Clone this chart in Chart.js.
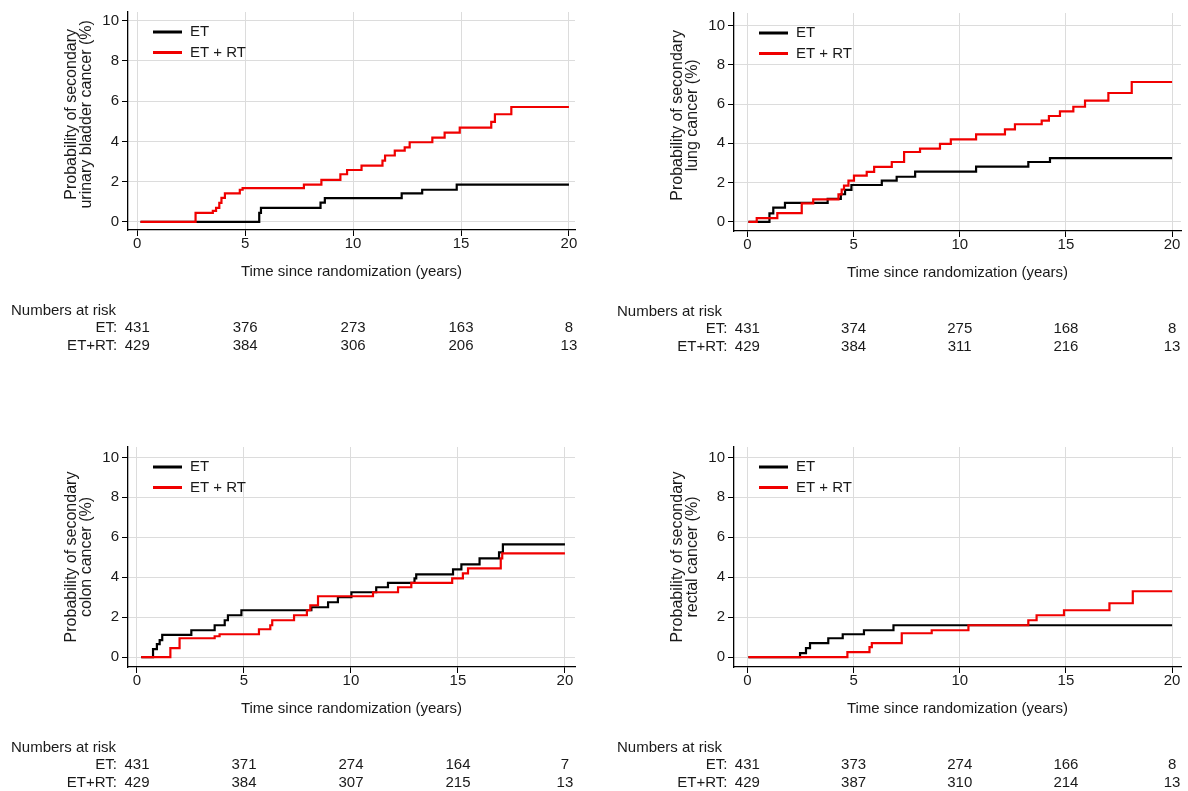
<!DOCTYPE html>
<html lang="en">
<head>
<meta charset="UTF-8">
<title>Probability of secondary cancer</title>
<script src="https://cdn.jsdelivr.net/npm/chart.js"></script>
<style>
  body { margin: 0; background: #fff; width: 1188px; height: 791px; position: relative; overflow: hidden; }
  canvas { position: absolute; }
</style>
</head>
<body>
<canvas id="bladder" width="590" height="380" style="left:0px;top:0px"></canvas>
<canvas id="lung" width="588" height="380" style="left:600px;top:0px"></canvas>
<canvas id="colon" width="590" height="356" style="left:0px;top:435px"></canvas>
<canvas id="rectal" width="588" height="356" style="left:600px;top:435px"></canvas>
<script>
// dados (anos, probabilidade %)
const seriesLabels = ['ET', 'ET + RT'];
const xTicks = [0, 5, 10, 15, 20];
const yTicks = [0, 2, 4, 6, 8, 10];
const riskTimes = [0, 5, 10, 15, 20];

const bladderEtTime = [0.15, 5.65, 5.73, 8.49, 8.69, 12.25, 13.2, 14.8, 20];
const bladderEtProb = [0, 0.45, 0.7, 0.96, 1.18, 1.42, 1.6, 1.85, 1.85];
const bladderRtTime = [0.15, 2.7, 3.5, 3.65, 3.8, 3.9, 4.06, 4.75, 4.88, 7.72, 8.53, 9.41, 9.72, 10.39, 11.36, 11.48, 11.93, 12.39, 12.62, 13.67, 14.24, 14.94, 16.4, 16.57, 17.33, 20];
const bladderRtProb = [0, 0.45, 0.55, 0.7, 0.95, 1.2, 1.42, 1.6, 1.68, 1.85, 2.09, 2.37, 2.58, 2.8, 3.05, 3.3, 3.54, 3.7, 3.96, 4.19, 4.44, 4.69, 4.97, 5.35, 5.71, 5.71];
const bladderRiskEt = [431, 376, 273, 163, 8];
const bladderRiskRt = [429, 384, 306, 206, 13];

const lungEtTime = [0.05, 1.04, 1.22, 1.77, 3.78, 4.4, 4.6, 4.9, 6.33, 7.03, 7.9, 10.77, 13.23, 14.25, 20];
const lungEtProb = [0, 0.44, 0.73, 0.97, 1.17, 1.41, 1.63, 1.88, 2.1, 2.3, 2.56, 2.81, 3.05, 3.25, 3.25];
const lungRtTime = [0.05, 0.44, 1.41, 2.56, 3.1, 4.29, 4.44, 4.55, 4.76, 5.02, 5.62, 5.97, 6.8, 7.38, 8.13, 9.07, 9.58, 10.77, 12.13, 12.6, 13.86, 14.2, 14.72, 15.35, 15.9, 17.0, 18.1, 20];
const lungRtProb = [0, 0.2, 0.45, 0.95, 1.15, 1.4, 1.65, 1.85, 2.1, 2.36, 2.55, 2.8, 3.05, 3.56, 3.73, 3.97, 4.2, 4.46, 4.71, 4.97, 5.15, 5.39, 5.63, 5.86, 6.17, 6.56, 7.12, 7.12];
const lungRiskEt = [431, 374, 275, 168, 8];
const lungRiskRt = [429, 384, 311, 216, 13];

const colonEtTime = [0.2, 0.75, 0.93, 1.06, 1.18, 2.54, 3.63, 4.1, 4.25, 4.88, 8.15, 8.93, 9.39, 10.02, 11.18, 11.73, 12.97, 13.05, 14.77, 15.16, 16.01, 16.92, 17.1, 20];
const colonEtProb = [0, 0.4, 0.65, 0.85, 1.12, 1.35, 1.6, 1.85, 2.1, 2.35, 2.5, 2.75, 3.0, 3.25, 3.5, 3.72, 3.95, 4.15, 4.4, 4.65, 4.95, 5.25, 5.65, 5.65];
const colonRtTime = [0.2, 1.56, 1.99, 3.63, 3.86, 5.7, 6.23, 6.32, 7.34, 7.94, 8.1, 8.46, 11.03, 12.2, 12.82, 14.73, 15.23, 15.47, 17.0, 17.07, 20];
const colonRtProb = [0, 0.45, 0.95, 1.05, 1.15, 1.4, 1.6, 1.85, 2.1, 2.35, 2.6, 3.05, 3.25, 3.5, 3.72, 3.95, 4.2, 4.45, 4.95, 5.2, 5.2];
const colonRiskEt = [431, 371, 274, 164, 7];
const colonRiskRt = [429, 384, 307, 215, 13];

const rectalEtTime = [0.05, 2.48, 2.76, 2.95, 3.81, 4.49, 5.49, 6.88, 20];
const rectalEtProb = [0, 0.2, 0.45, 0.7, 0.95, 1.15, 1.35, 1.6, 1.6];
const rectalRtTime = [0.05, 4.71, 5.75, 5.86, 7.27, 8.68, 10.41, 13.23, 13.62, 14.91, 17.05, 18.15, 20];
const rectalRtProb = [0, 0.25, 0.5, 0.7, 1.2, 1.35, 1.6, 1.85, 2.1, 2.35, 2.7, 3.3, 3.3];
const rectalRiskEt = [431, 373, 274, 166, 8];
const rectalRiskRt = [429, 387, 310, 214, 13];

const fonte = '"Liberation Sans", Arial, sans-serif';
const corTexto = '#1a1a1a';
Chart.defaults.font.family = fonte;
Chart.defaults.color = corTexto;

function pares(tempos, probs) {
  return tempos.map((t, i) => ({ x: t, y: probs[i] }));
}

// legenda dentro do grafico + tabela "Numbers at risk"
const kmExtras = {
  id: 'kmExtras',
  afterDatasetsDraw(chart) {
    const ctx = chart.ctx;
    const a = chart.chartArea;
    const xs = chart.scales.x;
    const op = chart.options.plugins.kmExtras;
    ctx.save();
    ctx.font = '15px ' + fonte;
    ctx.fillStyle = corTexto;
    ctx.textBaseline = 'middle';
    chart.data.datasets.forEach((ds, i) => {
      const y = a.top + 20 + i * 20.5;
      ctx.strokeStyle = ds.borderColor;
      ctx.lineWidth = 3;
      ctx.beginPath();
      ctx.moveTo(a.left + 25, y);
      ctx.lineTo(a.left + 54, y);
      ctx.stroke();
      ctx.textAlign = 'left';
      ctx.fillText(ds.label, a.left + 62, y);
    });
    ctx.textAlign = 'left';
    ctx.fillText('Numbers at risk', a.left - 117, a.bottom + 81);
    const x0 = xs.getPixelForValue(riskTimes[0]);
    ctx.textAlign = 'right';
    ctx.fillText('ET:', x0 - 20, a.bottom + 98);
    ctx.fillText('ET+RT:', x0 - 20, a.bottom + 116);
    ctx.textAlign = 'center';
    riskTimes.forEach((t, i) => {
      const x = xs.getPixelForValue(t);
      ctx.fillText(String(op.et[i]), x, a.bottom + 98);
      ctx.fillText(String(op.rt[i]), x, a.bottom + 116);
    });
    ctx.restore();
  }
};

function criarGrafico(id, painel) {
  const config = {
    type: 'line',
    data: {
      datasets: [{
        label: seriesLabels[0],
        data: pares(painel.etTime, painel.etProb),
        borderColor: '#000000',
        borderWidth: 2.2,
        stepped: 'before',
        pointRadius: 0,
        fill: false,
        order: 1
      }, {
        label: seriesLabels[1],
        data: pares(painel.rtTime, painel.rtProb),
        borderColor: '#f00000',
        borderWidth: 2.2,
        stepped: 'before',
        pointRadius: 0,
        fill: false,
        order: 0
      }]
    },
    options: {
      responsive: false,
      devicePixelRatio: 1,
      animation: false,
      layout: { padding: { left: painel.left - 128, top: painel.top, right: painel.right, bottom: painel.bottom } },
      plugins: {
        legend: { display: false },
        tooltip: { enabled: false },
        kmExtras: { et: painel.riskEt, rt: painel.riskRt }
      },
      scales: {
        x: {
          type: 'linear',
          min: painel.xMin,
          max: painel.xMax,
          afterBuildTicks: (s) => { s.ticks = xTicks.map(v => ({ value: v })); },
          afterFit: (s) => { s.height = 51; },
          ticks: { font: { size: 15, lineHeight: 1 }, padding: 0, maxRotation: 0, color: corTexto },
          grid: { color: '#dcdcdc', lineWidth: 1, tickLength: 6, tickColor: '#000', tickWidth: 1 },
          border: { color: '#000', width: 1.3 },
          title: { display: true, text: 'Time since randomization (years)', font: { size: 15, lineHeight: 1.2 }, padding: 0, color: corTexto }
        },
        y: {
          type: 'linear',
          min: painel.yMin,
          max: painel.yMax,
          afterBuildTicks: (s) => { s.ticks = yTicks.map(v => ({ value: v })); },
          afterFit: (s) => { s.width = 128; },
          ticks: { font: { size: 15, lineHeight: 1 }, padding: 3, color: corTexto },
          grid: { color: '#dcdcdc', lineWidth: 1, tickLength: 6, tickColor: '#000', tickWidth: 1 },
          border: { color: '#000', width: 1.3 },
          title: { display: true, text: painel.yTitle, font: { size: 16, lineHeight: 0.95 }, padding: { top: 64, bottom: 0 }, color: corTexto }
        }
      }
    },
    plugins: [kmExtras]
  };
  return new Chart(document.getElementById(id), config);
}

// espacos iniciais sobem um pouco o titulo nos paineis de cima
criarGrafico('bladder', {
  etTime: bladderEtTime, etProb: bladderEtProb, rtTime: bladderRtTime, rtProb: bladderRtProb,
  riskEt: bladderRiskEt, riskRt: bladderRiskRt,
  yTitle: ['   Probability of secondary', '   urinary bladder cancer (%)'],
  left: 128, top: 12, right: 15, bottom: 99,
  xMin: -0.43, xMax: 20.28, yMin: -0.4, yMax: 10.43
});
criarGrafico('lung', {
  etTime: lungEtTime, etProb: lungEtProb, rtTime: lungRtTime, rtProb: lungRtProb,
  riskEt: lungRiskEt, riskRt: lungRiskRt,
  yTitle: ['   Probability of secondary', '   lung cancer (%)'],
  left: 134, top: 13, right: 7, bottom: 98,
  xMin: -0.63, xMax: 20.42, yMin: -0.46, yMax: 10.63
});
criarGrafico('colon', {
  etTime: colonEtTime, etProb: colonEtProb, rtTime: colonRtTime, rtProb: colonRtProb,
  riskEt: colonRiskEt, riskRt: colonRiskRt,
  yTitle: ['Probability of secondary', 'colon cancer (%)'],
  left: 128, top: 12, right: 15, bottom: 73,
  xMin: -0.42, xMax: 20.47, yMin: -0.49, yMax: 10.52
});
criarGrafico('rectal', {
  etTime: rectalEtTime, etProb: rectalEtProb, rtTime: rectalRtTime, rtProb: rectalRtProb,
  riskEt: rectalRiskEt, riskRt: rectalRiskRt,
  yTitle: ['Probability of secondary', 'rectal cancer (%)'],
  left: 134, top: 12, right: 7, bottom: 73,
  xMin: -0.63, xMax: 20.42, yMin: -0.49, yMax: 10.52
});
</script>
</body>
</html>
